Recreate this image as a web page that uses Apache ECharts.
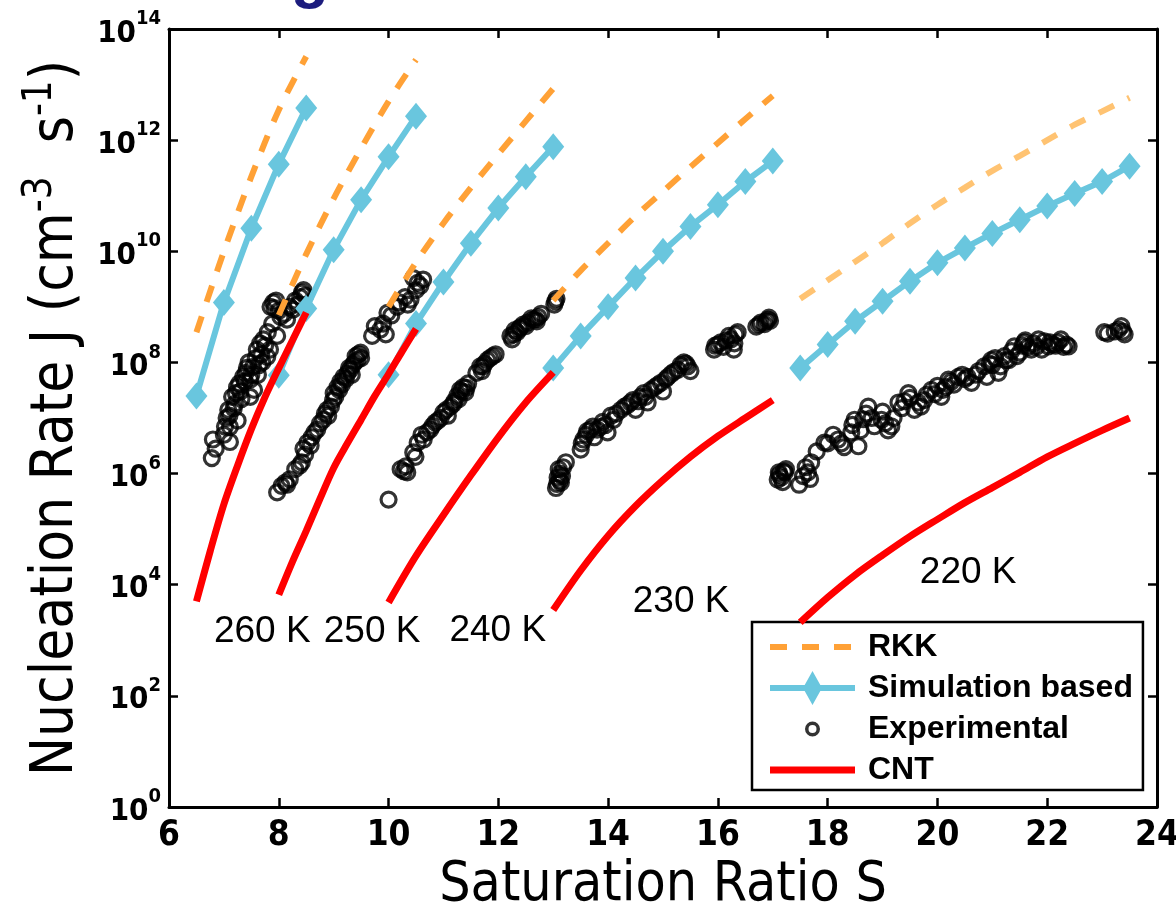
<!DOCTYPE html>
<html>
<head>
<meta charset="utf-8">
<script src="https://cdn.jsdelivr.net/npm/echarts@6/dist/echarts.min.js"></script>
<style>
html,body{margin:0;padding:0;background:#fff;}
#chart{width:1176px;height:905px;}
</style>
</head>
<body>
<div id="chart"></div>
<script>
// ---------------- DATA ----------------
// Simulation based (cyan diamonds), J in cm^-3 s^-1
const simS260 = [6.5, 7, 7.5, 8, 8.5];
const simJ260 = [2.5e7, 1.2e9, 2.6e10, 3.7e11, 3.8e12];
const simS250 = [8, 8.5, 9, 9.5, 10, 10.5];
const simJ250 = [5.9e7, 9.3e8, 1.07e10, 8.5e10, 5.0e11, 2.7e12];
const simS240 = [10, 10.5, 11, 11.5, 12, 12.5, 13];
const simJ240 = [6.0e7, 5.0e8, 2.8e9, 1.4e10, 6.0e10, 2.2e11, 7.6e11];
const simS230 = [13, 13.5, 14, 14.5, 15, 15.5, 16, 16.5, 17];
const simJ230 = [7.9e7, 3.0e8, 1.0e9, 3.3e9, 1.0e10, 2.8e10, 6.9e10, 1.8e11, 4.2e11];
const simS220 = [17.5, 18, 18.5, 19, 19.5, 20, 20.5, 21, 21.5, 22, 22.5, 23, 23.5];
const simJ220 = [7.9e7, 2.1e8, 5.5e8, 1.26e9, 2.9e9, 6.2e9, 1.15e10, 2.1e10, 3.7e10, 6.5e10, 1.1e11, 1.8e11, 3.4e11];

// RKK (orange dashed), same S grids as the simulation curves
const rkkJ260 = [3.5e8, 1.0e10, 2.2e11, 3.5e12, 3.2e13];
const rkkJ250 = [7.1e8, 8.9e9, 8.9e10, 7.1e11, 5.0e12, 2.8e13];
const rkkJ240 = [1.0e9, 6.3e9, 3.2e10, 1.4e11, 5.6e11, 2.2e12, 8.5e12];
const rkkJ230 = [1.3e9, 4.5e9, 1.4e10, 4.3e10, 1.2e11, 3.3e11, 8.9e11, 2.4e12, 6.3e12];
const rkkJ220 = [1.4e9, 3.0e9, 6.5e9, 1.4e10, 3.2e10, 6.9e10, 1.4e11, 2.8e11, 5.2e11, 1.0e12, 1.9e12, 3.3e12, 5.8e12];

// CNT (red)
const cntS260 = [6.5, 6.75, 7, 7.25, 7.5, 7.75, 8, 8.25, 8.5];
const cntJ260 = [5.0e3, 4.0e4, 2.8e5, 1.4e6, 6.3e6, 2.4e7, 7.9e7, 2.5e8, 7.9e8];
const cntS250 = [8, 8.25, 8.5, 8.75, 9, 9.25, 9.5, 9.75, 10, 10.25, 10.5];
const cntJ250 = [6.6e3, 2.6e4, 9.3e4, 3.5e5, 1.26e6, 3.5e6, 9.3e6, 2.5e7, 6.2e7, 1.6e8, 4.0e8];
const cntS240 = [10, 10.5, 11, 11.5, 12, 12.5, 13];
const cntJ240 = [4.8e3, 3.3e4, 1.8e5, 9.3e5, 4.5e6, 1.9e7, 6.6e7];
const cntS230 = [13, 13.5, 14, 14.5, 15, 15.5, 16, 16.5, 17];
const cntJ230 = [3.5e3, 1.8e4, 7.6e4, 2.6e5, 7.6e5, 2.0e6, 4.7e6, 1.0e7, 2.1e7];
const cntS220 = [17.5, 18, 18.5, 19, 19.5, 20, 20.5, 21, 21.5, 22, 22.5, 23, 23.5];
const cntJ220 = [2.1e3, 5.9e3, 1.5e4, 3.4e4, 7.4e4, 1.5e5, 3.0e5, 5.6e5, 1.05e6, 2.0e6, 3.5e6, 6.0e6, 1.0e7];

// Experimental (open circles) [S, J]
const exp260 = [[6.78,1.9e6],[6.80,4.1e6],[6.85,2.8e6],[7.0,5.0e6],[7.02,7e6],[7.05,1.0e7],[7.1,1.1e7],[7.11,3.7e6],[7.11,6.9e6],
  [7.08,1.4e7],[7.15,2.4e7],[7.18,1.5e7],[7.2,1.8e7],[7.22,2.8e7],[7.24,3.6e7],[7.25,9e6],[7.28,4.2e7],[7.3,3.0e7],
  [7.32,2.2e7],[7.35,5.5e7],[7.38,4.5e7],[7.4,6.5e7],[7.42,8e7],[7.45,1.0e8],[7.48,2.4e7],[7.48,4.9e7],[7.5,6e7],
  [7.53,8.3e7],[7.55,3.2e7],[7.58,1.2e8],[7.6,1.7e8],[7.62,6.0e7],[7.64,9e7],[7.66,2.2e8],[7.68,1.4e8],[7.7,1.0e8],
  [7.72,2.6e8],[7.75,2.0e8],[7.79,1.26e8],[7.8,3.5e8],[7.84,1.7e8],[7.85,1.0e9],[7.88,5e8],[7.9,1.2e9],[7.92,9.5e8],
  [7.95,1.3e9],[7.97,3.0e8],[8.0,8.5e8],[8.03,6.6e8],[8.1,7.5e8],[8.15,5.9e8],[8.2,1.0e9],[8.26,8.9e8],[8.3,1.3e9],
  [8.35,1.1e9],[8.39,1.5e9],[8.42,1.8e9],[8.45,2.0e9],[8.48,1.6e9]];
const exp250 = [[7.97,4.6e5],[8.05,6.0e5],[8.12,6.9e5],[8.15,6.3e5],[8.2,7.9e5],[8.3,1.2e6],[8.38,1.4e6],[8.42,1.6e6],
  [8.45,2.8e6],[8.48,2.2e6],[8.52,3.6e6],[8.58,3.2e6],[8.6,4.5e6],[8.65,5.5e6],[8.7,6.2e6],[8.75,8e6],[8.81,9.3e6],
  [8.84,1.2e7],[8.88,1.4e7],[8.9,1.1e7],[8.95,1.6e7],[8.99,2.1e7],[9.0,2.8e7],[9.03,2.4e7],[9.07,3.6e7],[9.1,3.2e7],
  [9.12,4.5e7],[9.15,4.0e7],[9.18,5.5e7],[9.22,5.0e7],[9.25,6.3e7],[9.28,8.0e7],[9.3,7.4e7],[9.33,6.0e7],[9.35,9e7],
  [9.38,1.0e8],[9.4,1.3e8],[9.43,1.1e8],[9.45,1.4e8],[9.49,1.5e8],[9.5,1.2e8],[9.7,3.0e8],[9.75,4.5e8],[9.85,3.9e8],
  [9.9,5e8],[9.95,3.2e8],[9.98,7.8e8],[10.05,7e8],[10.16,1.0e9],[10.2,1.2e9],[10.3,1.5e9],[10.35,1.1e9],[10.4,1.35e9],
  [10.45,3.3e9],[10.5,2.0e9],[10.53,2.7e9],[10.58,2.4e9],[10.63,3.1e9]];
const exp240 = [[10.0,3.4e5],[10.22,1.2e6],[10.28,1.1e6],[10.31,1.35e6],[10.34,1.05e6],[10.45,2.4e6],[10.49,2.0e6],
  [10.53,3.6e6],[10.6,5e6],[10.64,4.1e6],[10.7,5.5e6],[10.76,6.2e6],[10.8,7.2e6],[10.85,8.3e6],[10.9,9.0e6],
  [10.95,1.0e7],[11.0,1.26e7],[11.05,1.4e7],[11.08,1.1e7],[11.13,1.6e7],[11.18,1.8e7],[11.2,2.0e7],[11.25,2.5e7],
  [11.28,2.2e7],[11.3,3.2e7],[11.33,3.0e7],[11.36,3.6e7],[11.4,2.9e7],[11.42,3.5e7],[11.45,4.2e7],[11.6,6.5e7],
  [11.67,8.5e7],[11.7,7e7],[11.72,8.5e7],[11.75,9.5e7],[11.8,1.1e8],[11.85,1.2e8],[11.9,1.3e8],[11.95,1.4e8],
  [12.22,3.0e8],[12.25,2.6e8],[12.28,3.2e8],[12.3,3.8e8],[12.34,3.5e8],[12.38,4.0e8],[12.4,4.3e8],[12.45,4.8e8],
  [12.5,4.5e8],[12.53,5.2e8],[12.6,6.2e8],[12.64,5.9e8],[12.68,6.0e8],[12.7,5.5e8],[12.73,6.6e8],[12.78,7.5e8],
  [13.02,1.1e9],[13.04,1.26e9],[13.06,1.4e9]];
const exp230 = [[13.05,5.5e5],[13.07,6.5e5],[13.08,8.5e5],[13.1,1.2e6],[13.12,1.0e6],[13.12,7.5e5],[13.14,6.9e5],
  [13.16,9e5],[13.18,1.3e6],[13.23,1.6e6],[13.5,2.7e6],[13.52,3.5e6],[13.55,4.1e6],[13.6,5.0e6],[13.62,5.8e6],
  [13.68,6.2e6],[13.72,7.0e6],[13.75,4.5e6],[13.8,6.2e6],[13.86,6.9e6],[13.9,8.5e6],[13.95,7.5e6],[13.99,5.5e6],
  [14.05,1.1e7],[14.1,9.3e6],[14.15,1.2e7],[14.23,1.4e7],[14.3,1.6e7],[14.35,1.7e7],[14.41,1.9e7],[14.45,2.1e7],
  [14.5,1.4e7],[14.55,2.0e7],[14.59,2.4e7],[14.65,2.8e7],[14.68,2.4e7],[14.72,1.9e7],[14.78,3.2e7],[14.85,3.6e7],
  [14.9,3.9e7],[14.96,4.3e7],[15.0,3.0e7],[15.05,5.0e7],[15.09,5.5e7],[15.15,6.2e7],[15.2,6.8e7],[15.27,7.4e7],
  [15.32,9.0e7],[15.38,1.0e8],[15.42,9.5e7],[15.45,8.5e7],[15.5,7.0e7],[15.93,1.7e8],[15.95,2.0e8],[16.0,2.1e8],
  [16.05,2.3e8],[16.1,1.9e8],[16.15,2.5e8],[16.2,3.0e8],[16.24,2.6e8],[16.29,1.7e8],[16.3,2.2e8],[16.32,3.2e8],
  [16.36,3.5e8],[16.7,4.4e8],[16.75,4.8e8],[16.78,5.2e8],[16.85,4.9e8],[16.88,5.5e8],[16.91,5.9e8],[16.93,6.4e8],[16.95,5.6e8]];
const exp220 = [[17.09,7.8e5],[17.11,1.05e6],[17.12,9.5e5],[17.15,8.5e5],[17.18,7e5],[17.2,1.1e6],[17.22,1.05e6],
  [17.24,1.2e6],[17.48,6.3e5],[17.55,9e5],[17.6,1.3e6],[17.64,1.05e6],[17.68,8e5],[17.7,1.6e6],[17.8,2.5e6],
  [17.94,3.6e6],[18.0,3.5e6],[18.1,5.0e6],[18.19,4.1e6],[18.25,3.5e6],[18.3,3.0e6],[18.43,5.5e6],[18.45,7.5e6],
  [18.49,9.3e6],[18.56,3.1e6],[18.6,6.0e6],[18.65,9.5e6],[18.7,1.2e7],[18.74,1.6e7],[18.8,1.0e7],[18.85,7.1e6],
  [18.98,9.3e6],[19.0,1.3e7],[19.05,8.0e6],[19.1,6.0e6],[19.16,7.1e6],[19.2,1.0e7],[19.29,1.9e7],[19.35,1.5e7],
  [19.4,2.0e7],[19.47,2.8e7],[19.5,2.3e7],[19.58,1.4e7],[19.65,1.9e7],[19.7,1.6e7],[19.76,2.1e7],[19.8,2.6e7],
  [19.89,3.2e7],[19.95,2.7e7],[20.0,3.8e7],[20.07,2.4e7],[20.1,3.2e7],[20.15,3.6e7],[20.2,4.9e7],[20.25,4.5e7],
  [20.3,4.0e7],[20.38,5.5e7],[20.45,6.0e7],[20.5,5.0e7],[20.55,5.5e7],[20.62,4.3e7],[20.7,6.0e7],[20.75,7.0e7],
  [20.85,8.5e7],[20.9,5.5e7],[20.95,9.5e7],[20.98,1.1e8],[21.0,9e7],[21.05,1.2e8],[21.11,6.5e7],[21.15,8.5e7],
  [21.22,1.3e8],[21.25,1.1e8],[21.3,1.1e8],[21.35,1.6e8],[21.4,1.95e8],[21.45,1.3e8],[21.5,1.5e8],[21.55,2.0e8],
  [21.58,2.3e8],[21.6,2.5e8],[21.65,1.9e8],[21.71,1.7e8],[21.75,2.2e8],[21.8,1.9e8],[21.84,2.6e8],[21.9,1.7e8],
  [21.95,2.4e8],[22.02,1.95e8],[22.05,2.3e8],[22.1,2.1e8],[22.15,2.0e8],[22.2,2.3e8],[22.25,2.6e8],[22.3,1.9e8],
  [22.35,2.1e8],[22.39,1.95e8],[23.04,3.5e8],[23.1,3.3e8],[23.23,3.6e8],[23.3,3.9e8],[23.35,4.5e8],[23.38,3.6e8],[23.41,3.2e8]];

// Temperature annotations [text, S, J]
const tempLabels = [['260 K', 7.70, 1.4e3], ['250 K', 9.70, 1.4e3], ['240 K', 11.99, 1.5e3],
  ['230 K', 15.33, 5.0e3], ['220 K', 20.56, 1.66e4]];

const xTicks = {min: 6, max: 24, step: 2};
const yTicks = {min: 1, max: 1e14, stepDecades: 2};

// ---------------- STYLE ----------------
const NARROW = '"Liberation Sans Narrow", "DejaVu Sans Condensed", "Liberation Sans", Arial, sans-serif';
const SANS = '"Liberation Sans", Arial, Helvetica, sans-serif';
const C_RKK = '#FFA136', C_RKK2 = '#FFC372', C_SIM = '#69C6DE', C_CNT = '#FF0000';

function pairs(xs, ys) { return xs.map((x, i) => [x, ys[i]]); }

const series = [];
[exp260, exp250, exp240, exp230, exp220].forEach(d => series.push({
  name: 'Experimental', type: 'scatter', data: d, symbol: 'circle', symbolSize: 15, z: 2,
  itemStyle: {color: 'rgba(0,0,0,0)', borderColor: '#000', borderWidth: 3.2}
}));
[[simS260, simJ260], [simS250, simJ250], [simS240, simJ240], [simS230, simJ230], [simS220, simJ220]].forEach(p => series.push({
  name: 'Simulation based', type: 'line', data: pairs(p[0], p[1]), symbol: 'diamond', symbolSize: [22, 27], z: 3,
  itemStyle: {color: C_SIM}, lineStyle: {color: C_SIM, width: 6}
}));
[[simS260, rkkJ260, C_RKK], [simS250, rkkJ250, C_RKK], [simS240, rkkJ240, C_RKK], [simS230, rkkJ230, C_RKK], [simS220, rkkJ220, C_RKK2]].forEach(p => series.push({
  name: 'RKK', type: 'line', data: pairs(p[0], p[1]), symbol: 'none', smooth: 0.3, z: 4,
  itemStyle: {color: C_RKK}, lineStyle: {color: p[2], width: 6, type: [17, 15]}
}));
[[cntS260, cntJ260], [cntS250, cntJ250], [cntS240, cntJ240], [cntS230, cntJ230], [cntS220, cntJ220]].forEach(p => series.push({
  name: 'CNT', type: 'line', data: pairs(p[0], p[1]), symbol: 'none', smooth: 0.3, z: 5,
  itemStyle: {color: C_CNT}, lineStyle: {color: C_CNT, width: 7}
}));
series.push({
  name: 'labels', type: 'scatter', z: 6, silent: true, symbolSize: 1,
  itemStyle: {color: 'rgba(0,0,0,0)', opacity: 1},
  data: tempLabels.map(t => ({name: t[0], value: [t[1], t[2]]})),
  label: {show: true, position: 'inside', formatter: '{b}', fontSize: 37, color: '#000', opacity: 1,
    textBorderWidth: 0, fontFamily: SANS}
});

const axisLine = {show: true, onZero: false, lineStyle: {color: '#000', width: 3}};
const axisTick = {show: true, inside: true, length: 9, lineStyle: {color: '#000', width: 2.5}};

const option = {
  animation: false,
  backgroundColor: '#fff',
  grid: {left: 169, top: 29, width: 988, height: 778, containLabel: false, outerBoundsMode: 'none'},
  xAxis: [{
    type: 'value', position: 'bottom', min: xTicks.min, max: xTicks.max, interval: xTicks.step,
    axisLine, axisTick, splitLine: {show: false},
    axisLabel: {fontSize: 35, fontWeight: 'bold', fontFamily: NARROW, color: '#000', margin: 11},
    name: 'Saturation Ratio S', nameLocation: 'middle', nameGap: 28,
    nameTextStyle: {fontSize: 55, fontFamily: NARROW, color: '#000'}
  }, {
    type: 'value', position: 'top', min: xTicks.min, max: xTicks.max, interval: xTicks.step,
    axisLine, axisTick, splitLine: {show: false}, axisLabel: {show: false}
  }],
  yAxis: [{
    type: 'log', logBase: 10, position: 'left', min: yTicks.min, max: yTicks.max, interval: yTicks.stepDecades,
    axisLine, axisTick, splitLine: {show: false}, minorTick: {show: false},
    axisLabel: {
      margin: 8,
      formatter: v => '{b|10}{e|' + Math.round(Math.log10(v)) + '}',
      rich: {
        b: {fontSize: 31, fontWeight: 'bold', fontFamily: NARROW, color: '#000', lineHeight: 40, verticalAlign: 'bottom'},
        e: {fontSize: 20, fontWeight: 'bold', fontFamily: NARROW, color: '#000', lineHeight: 24, verticalAlign: 'top'}
      }
    },
    name: '{n|Nucleation Rate J (cm}{s|-3}{n|  s}{s|-1}{n|)}', nameLocation: 'middle', nameGap: 80,
    nameTextStyle: {
      rich: {
        n: {fontSize: 58, fontFamily: NARROW, color: '#000', lineHeight: 66, verticalAlign: 'bottom'},
        s: {fontSize: 40, fontFamily: NARROW, color: '#000', lineHeight: 40, verticalAlign: 'top'}
      }
    }
  }, {
    type: 'log', logBase: 10, position: 'right', min: yTicks.min, max: yTicks.max, interval: yTicks.stepDecades,
    axisLine, axisTick, splitLine: {show: false}, minorTick: {show: false}, axisLabel: {show: false}
  }],
  legend: {
    orient: 'vertical', left: 752, top: 622,
    itemWidth: 85, itemHeight: 34, itemGap: 7,
    padding: [8, 10, 3, 18],
    backgroundColor: '#fff', borderColor: '#000', borderWidth: 2.5, borderRadius: 0,
    textStyle: {fontSize: 32, fontWeight: 'bold', fontFamily: SANS, color: '#000', padding: [0, 0, 0, 8]},
    selectedMode: false,
    data: [
      {name: 'RKK', icon: 'path://M0,0M85,34M0,14h17v6h-17zM32,14h17v6h-17zM64,14h17v6h-17z', itemStyle: {color: C_RKK, borderWidth: 0}},
      {name: 'Simulation based', icon: 'path://M0,0M85,34M0,14h85v6h-85zM42.5,0L52,17L42.5,34L33,17z', itemStyle: {color: C_SIM, borderWidth: 0}},
      {name: 'Experimental', icon: 'path://M0,0M85,34M35,17a7.5,7.5 0 1,0 15,0a7.5,7.5 0 1,0 -15,0zM38.5,17a4,4 0 1,1 8,0a4,4 0 1,1 -8,0z', itemStyle: {color: '#000', borderWidth: 0}},
      {name: 'CNT', icon: 'path://M0,0M85,34M0,13.5h85v7h-85z', itemStyle: {color: C_CNT, borderWidth: 0}}
    ]
  },
  graphic: [{
    type: 'text', left: 291, top: -52, silent: true,
    style: {text: 'g', font: 'bold 62px ' + SANS, fill: '#1c1c7e'}
  }],
  series
};

const chart = echarts.init(document.getElementById('chart'), null, {renderer: 'canvas'});
chart.setOption(option);
</script>
</body>
</html>
